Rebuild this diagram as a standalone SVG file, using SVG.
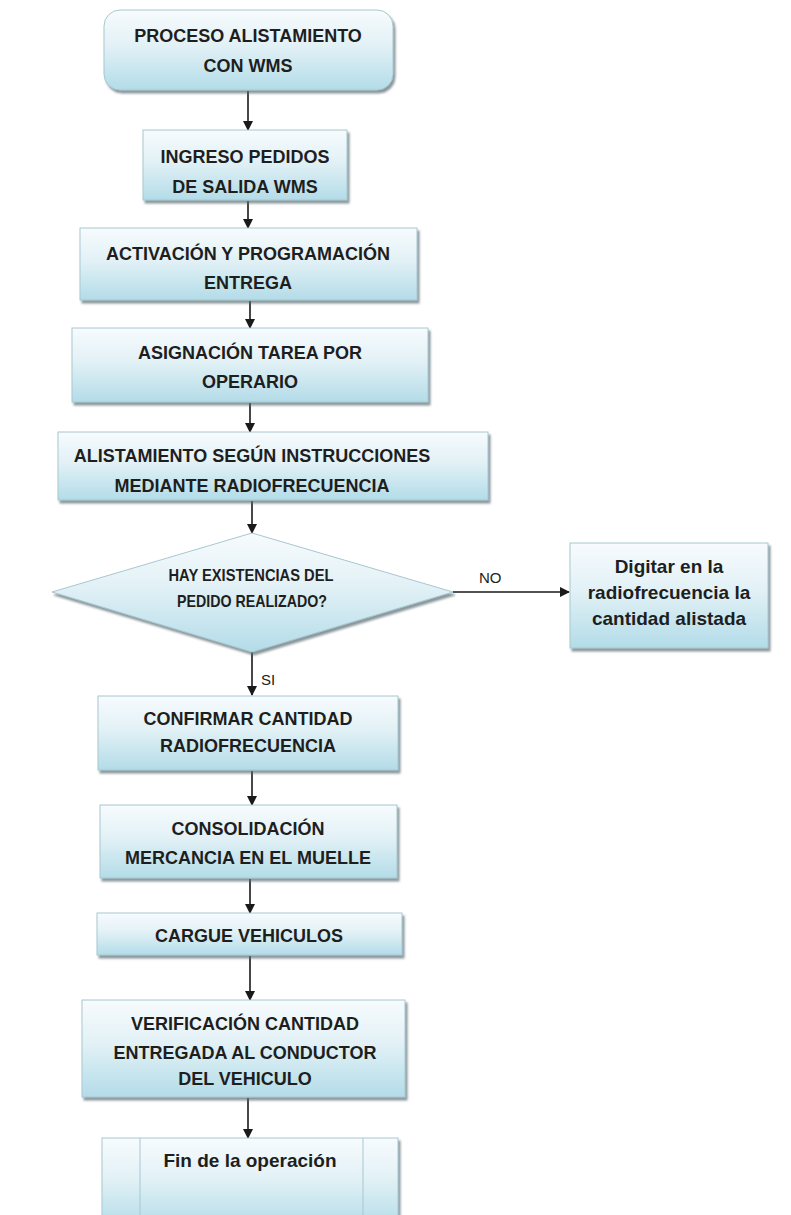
<svg xmlns="http://www.w3.org/2000/svg" width="791" height="1215" viewBox="0 0 791 1215">
<defs>
<linearGradient id="g" x1="0" y1="0" x2="0" y2="1">
<stop offset="0" stop-color="#f7fbfd"/>
<stop offset="0.45" stop-color="#e2f1f6"/>
<stop offset="1" stop-color="#b3dce8"/>
</linearGradient>
<filter id="sh" x="-5%" y="-5%" width="115%" height="125%">
<feDropShadow dx="2" dy="3" stdDeviation="1" flood-color="#5a6a70" flood-opacity="0.7"/>
</filter>
<marker id="ah" markerWidth="10" markerHeight="10" refX="9" refY="5" orient="auto" markerUnits="userSpaceOnUse">
<path d="M0,0 L10,5 L0,10 z" fill="#1a1a1a"/>
</marker>
</defs>
<style>
.box{fill:url(#g);stroke:#a7c7d2;stroke-width:1;filter:url(#sh)}
.t{font-family:"Liberation Sans",Arial,sans-serif;font-weight:bold;font-size:18px;fill:#1e1e1e;text-anchor:middle}
.d{font-family:"Liberation Sans",Arial,sans-serif;font-weight:bold;font-size:17px;fill:#1e1e1e;text-anchor:middle}
.lc{font-size:19px}
.lbl{font-family:"Liberation Sans",Arial,sans-serif;font-size:15px;fill:#222}
.c{stroke:#1a1a1a;stroke-width:1.6;fill:none;marker-end:url(#ah)}
.in{stroke:#a7c7d2;stroke-width:1}
</style>
<rect width="791" height="1215" fill="#ffffff"/>

<g id="connectors">
<line class="c" x1="248" y1="91" x2="248" y2="130"/>
<line class="c" x1="248" y1="201" x2="248" y2="228"/>
<line class="c" x1="250" y1="301" x2="250" y2="328"/>
<line class="c" x1="250" y1="403" x2="250" y2="432"/>
<line class="c" x1="252" y1="501" x2="252" y2="533"/>
<line class="c" x1="453" y1="592" x2="569" y2="592"/>
<line class="c" x1="252" y1="652" x2="252" y2="695"/>
<line class="c" x1="252" y1="771" x2="252" y2="805"/>
<line class="c" x1="250" y1="879" x2="250" y2="913"/>
<line class="c" x1="250" y1="956" x2="250" y2="1000"/>
<line class="c" x1="248" y1="1098" x2="248" y2="1138"/>
<text class="lbl" x="479" y="583">NO</text>
<text class="lbl" x="261" y="685">SI</text>
</g>

<g id="n1">
<rect class="box" x="104" y="10" width="289" height="80" rx="16"/>
<text class="t" x="248" y="42">PROCESO ALISTAMIENTO</text>
<text class="t" x="248" y="72">CON WMS</text>
</g>

<g id="n2">
<rect class="box" x="143" y="130" width="204" height="70"/>
<text class="t" x="245" y="163">INGRESO PEDIDOS</text>
<text class="t" x="245" y="193">DE SALIDA WMS</text>
</g>

<g id="n3">
<rect class="box" x="80" y="228" width="337" height="72"/>
<text class="t" x="248" y="260">ACTIVACIÓN Y PROGRAMACIÓN</text>
<text class="t" x="248" y="289">ENTREGA</text>
</g>

<g id="n4">
<rect class="box" x="72" y="328" width="356" height="74"/>
<text class="t" x="250" y="359">ASIGNACIÓN TAREA POR</text>
<text class="t" x="250" y="388">OPERARIO</text>
</g>

<g id="n5">
<rect class="box" x="58" y="432" width="430" height="68"/>
<text class="t" x="252" y="462">ALISTAMIENTO SEGÚN INSTRUCCIONES</text>
<text class="t" x="252" y="492">MEDIANTE RADIOFRECUENCIA</text>
</g>

<g id="n6">
<polygon class="box" points="252,533 453,592 252,652 52,592"/>
<text class="d" x="251" y="581" textLength="165" lengthAdjust="spacingAndGlyphs">HAY EXISTENCIAS DEL</text>
<text class="d" x="252" y="607" textLength="150" lengthAdjust="spacingAndGlyphs">PEDIDO REALIZADO?</text>
</g>

<g id="n7">
<rect class="box" x="570" y="543" width="198" height="105"/>
<text class="t lc" x="669" y="573">Digitar en la</text>
<text class="t lc" x="669" y="599">radiofrecuencia la</text>
<text class="t lc" x="669" y="625">cantidad alistada</text>
</g>

<g id="n8">
<rect class="box" x="98" y="696" width="300" height="74"/>
<text class="t" x="248" y="725">CONFIRMAR CANTIDAD</text>
<text class="t" x="248" y="752">RADIOFRECUENCIA</text>
</g>

<g id="n9">
<rect class="box" x="100" y="805" width="297" height="73"/>
<text class="t" x="248" y="835">CONSOLIDACIÓN</text>
<text class="t" x="248" y="864">MERCANCIA EN EL MUELLE</text>
</g>

<g id="n10">
<rect class="box" x="97" y="913" width="305" height="42"/>
<text class="t" x="249" y="942">CARGUE VEHICULOS</text>
</g>

<g id="n11">
<rect class="box" x="82" y="1000" width="323" height="97"/>
<text class="t" x="245" y="1030">VERIFICACIÓN CANTIDAD</text>
<text class="t" x="245" y="1059">ENTREGADA AL CONDUCTOR</text>
<text class="t" x="245" y="1085">DEL VEHICULO</text>
</g>

<g id="n12">
<rect class="box" x="102" y="1138" width="296" height="90"/>
<line class="in" x1="140" y1="1138" x2="140" y2="1215"/>
<line class="in" x1="363" y1="1138" x2="363" y2="1215"/>
<text class="t lc" x="250" y="1167">Fin de la operación</text>
</g>
</svg>
